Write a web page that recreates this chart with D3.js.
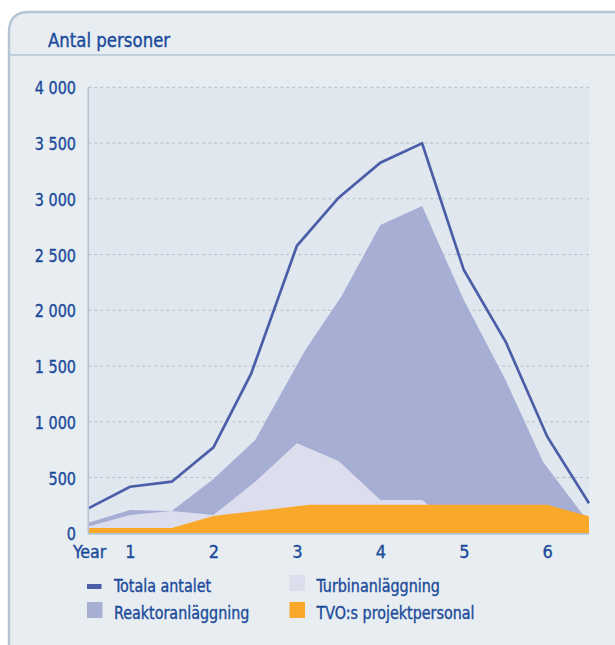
<!DOCTYPE html>
<html>
<head>
<meta charset="utf-8">
<script src="https://cdn.jsdelivr.net/npm/d3@7"></script>
<style>
  html, body { margin: 0; padding: 0; background: #ffffff; }
  svg { display: block; }
  text { font-family: "Liberation Sans Narrow", "DejaVu Sans Condensed", "Roboto", sans-serif; fill: #1a4b9a; stroke: #1a4b9a; stroke-width: 0.35px; }
</style>
</head>
<body>
<svg id="chart" width="615" height="645"></svg>
<script>
// ---- Data ----
const title = "Antal personer";
const xAxisLabel = "Year";
const xTickValues = [1, 2, 3, 4, 5, 6];
const yTickValues = [0, 500, 1000, 1500, 2000, 2500, 3000, 3500, 4000];

const totalYears  = [0.5, 1, 1.5, 2, 2.45, 3, 3.5, 4, 4.5, 5, 5.5, 6, 6.5];
const totalValues = [224, 418, 463, 771, 1429, 2579, 3010, 3324, 3498, 2361, 1720, 866, 269];

const reaktorYears  = [0.5, 1, 1.5, 2, 2.5, 3.1, 3.53, 4, 4.5, 5, 5.5, 5.95, 6.43, 6.5];
const reaktorValues = [95, 209, 200, 487, 837, 1644, 2122, 2765, 2935, 2092, 1375, 640, 164, 140];

const turbinYears  = [0.5, 1, 1.5, 2, 2.5, 3, 3.5, 4, 4.5, 5];
const turbinValues = [60, 164, 200, 164, 463, 807, 648, 299, 299, 0];

const tvoYears  = [0.5, 1.5, 2, 3.15, 6, 6.5];
const tvoValues = [48, 48, 155, 255, 255, 152];

const legendLabels = ["Totala antalet", "Reaktoranläggning", "Turbinanläggning", "TVO:s projektpersonal"];

// ---- Styles ----
const colTotal = "#4b5ea7";
const colReaktor = "#a7aed4";
const colTurbin = "#dcdeee";
const colTvo = "#f9a82a";
const panelFill = "#e8edf2";
const plotFill = "#e1e7ef";
const borderCol = "#b5c5d6";

const svg = d3.select("#chart");

// Panel with rounded top-left corner extending past right/bottom edges
const r = 20, px0 = 9, py0 = 12;
svg.append("path")
  .attr("d", `M${px0},660 L${px0},${py0 + r} Q${px0},${py0} ${px0 + r},${py0} L630,${py0} L630,660 Z`)
  .attr("fill", panelFill)
  .attr("stroke", borderCol)
  .attr("stroke-width", 2.5);

// Header separator
svg.append("line")
  .attr("x1", px0).attr("x2", 615)
  .attr("y1", 55).attr("y2", 55)
  .attr("stroke", borderCol).attr("stroke-width", 1.5);

svg.append("text")
  .attr("transform", "translate(48,47) scale(0.97,1)")
  .attr("font-size", 19)
  .text(title);

// Scales
const x = d3.scaleLinear().domain([0.5, 6.5]).range([88.3, 589]);
const y = d3.scaleLinear().domain([0, 4000]).range([533.3, 87.3]);

// Plot background
svg.append("rect")
  .attr("x", x(0.5)).attr("y", y(4000))
  .attr("width", x(6.5) - x(0.5)).attr("height", y(0) - y(4000))
  .attr("fill", plotFill);

// Gridlines
svg.append("g").selectAll("line")
  .data(yTickValues.filter(v => v > 0))
  .join("line")
  .attr("x1", x(0.5)).attr("x2", x(6.5))
  .attr("y1", d => y(d)).attr("y2", d => y(d))
  .attr("stroke", "#b3bfcc").attr("stroke-width", 1)
  .attr("stroke-dasharray", "3,3");

// Areas
function zipped(xs, vs) { return xs.map((t, i) => ({ t, v: vs[i] })); }
const area = d3.area().x(d => x(d.t)).y0(y(0)).y1(d => y(d.v));

svg.append("path").datum(zipped(reaktorYears, reaktorValues))
  .attr("d", area).attr("fill", colReaktor);
svg.append("path").datum(zipped(turbinYears, turbinValues))
  .attr("d", area).attr("fill", colTurbin);
svg.append("path").datum(zipped(tvoYears, tvoValues))
  .attr("d", area).attr("fill", colTvo);

// Total line
const line = d3.line().x(d => x(d.t)).y(d => y(d.v));
svg.append("path").datum(zipped(totalYears, totalValues))
  .attr("d", line).attr("fill", "none")
  .attr("stroke", colTotal).attr("stroke-width", 2.7)
  .attr("stroke-linejoin", "miter");

// Axis lines
svg.append("line")
  .attr("x1", x(0.5)).attr("x2", x(0.5))
  .attr("y1", y(4000)).attr("y2", y(0) + 1)
  .attr("stroke", borderCol).attr("stroke-width", 1.6);
svg.append("line")
  .attr("x1", x(0.5)).attr("x2", x(6.5))
  .attr("y1", y(0) + 0.5).attr("y2", y(0) + 0.5)
  .attr("stroke", borderCol).attr("stroke-width", 1.8);

// Y axis labels
const fmt = d3.formatLocale({ decimal: ",", thousands: "\u00a0", grouping: [3], currency: ["", ""] }).format(",d");
const yAxis = d3.axisLeft(y).tickValues(yTickValues).tickFormat(fmt).tickSize(0).tickPadding(0);
const gy = svg.append("g").attr("transform", `translate(76,0)`).call(yAxis);
gy.select(".domain").remove();
gy.selectAll("text")
  .attr("font-size", 18)
  .attr("font-family", null)
  .attr("fill", null)
  .attr("x", null)
  .attr("dy", "0.36em")
  .attr("transform", "scale(0.89,1)");

// X axis labels
const xAxis = d3.axisBottom(x).tickValues(xTickValues).tickFormat(d3.format("d")).tickSize(0).tickPadding(0);
const gx = svg.append("g").attr("transform", `translate(0,544)`).call(xAxis);
gx.select(".domain").remove();
gx.selectAll("text")
  .attr("font-size", 18)
  .attr("font-family", null)
  .attr("fill", null)
  .attr("dy", "0.78em");
svg.append("text")
  .attr("transform", "translate(73,558) scale(0.98,1)")
  .attr("font-size", 18)
  .text(xAxisLabel);

// Legend
const legend = svg.append("g");
const items = [
  { label: legendLabels[0], type: "line", color: colTotal, x: 87, y: 591.5 },
  { label: legendLabels[1], type: "box", color: colReaktor, x: 87, y: 618.5 },
  { label: legendLabels[2], type: "box", color: colTurbin, x: 289.5, y: 591.5 },
  { label: legendLabels[3], type: "box", color: colTvo, x: 289.5, y: 618.5 }
];
items.forEach(it => {
  if (it.type === "line") {
    legend.append("rect").attr("x", it.x).attr("y", it.y - 7.5)
      .attr("width", 14.5).attr("height", 5).attr("fill", it.color);
  } else {
    legend.append("rect").attr("x", it.x).attr("y", it.y - 16.5)
      .attr("width", 15.5).attr("height", 16).attr("fill", it.color);
  }
  legend.append("text")
    .attr("transform", `translate(${it.x + 27},${it.y}) scale(0.91,1)`)
    .attr("font-size", 17.5)
    .text(it.label);
});
</script>
</body>
</html>
